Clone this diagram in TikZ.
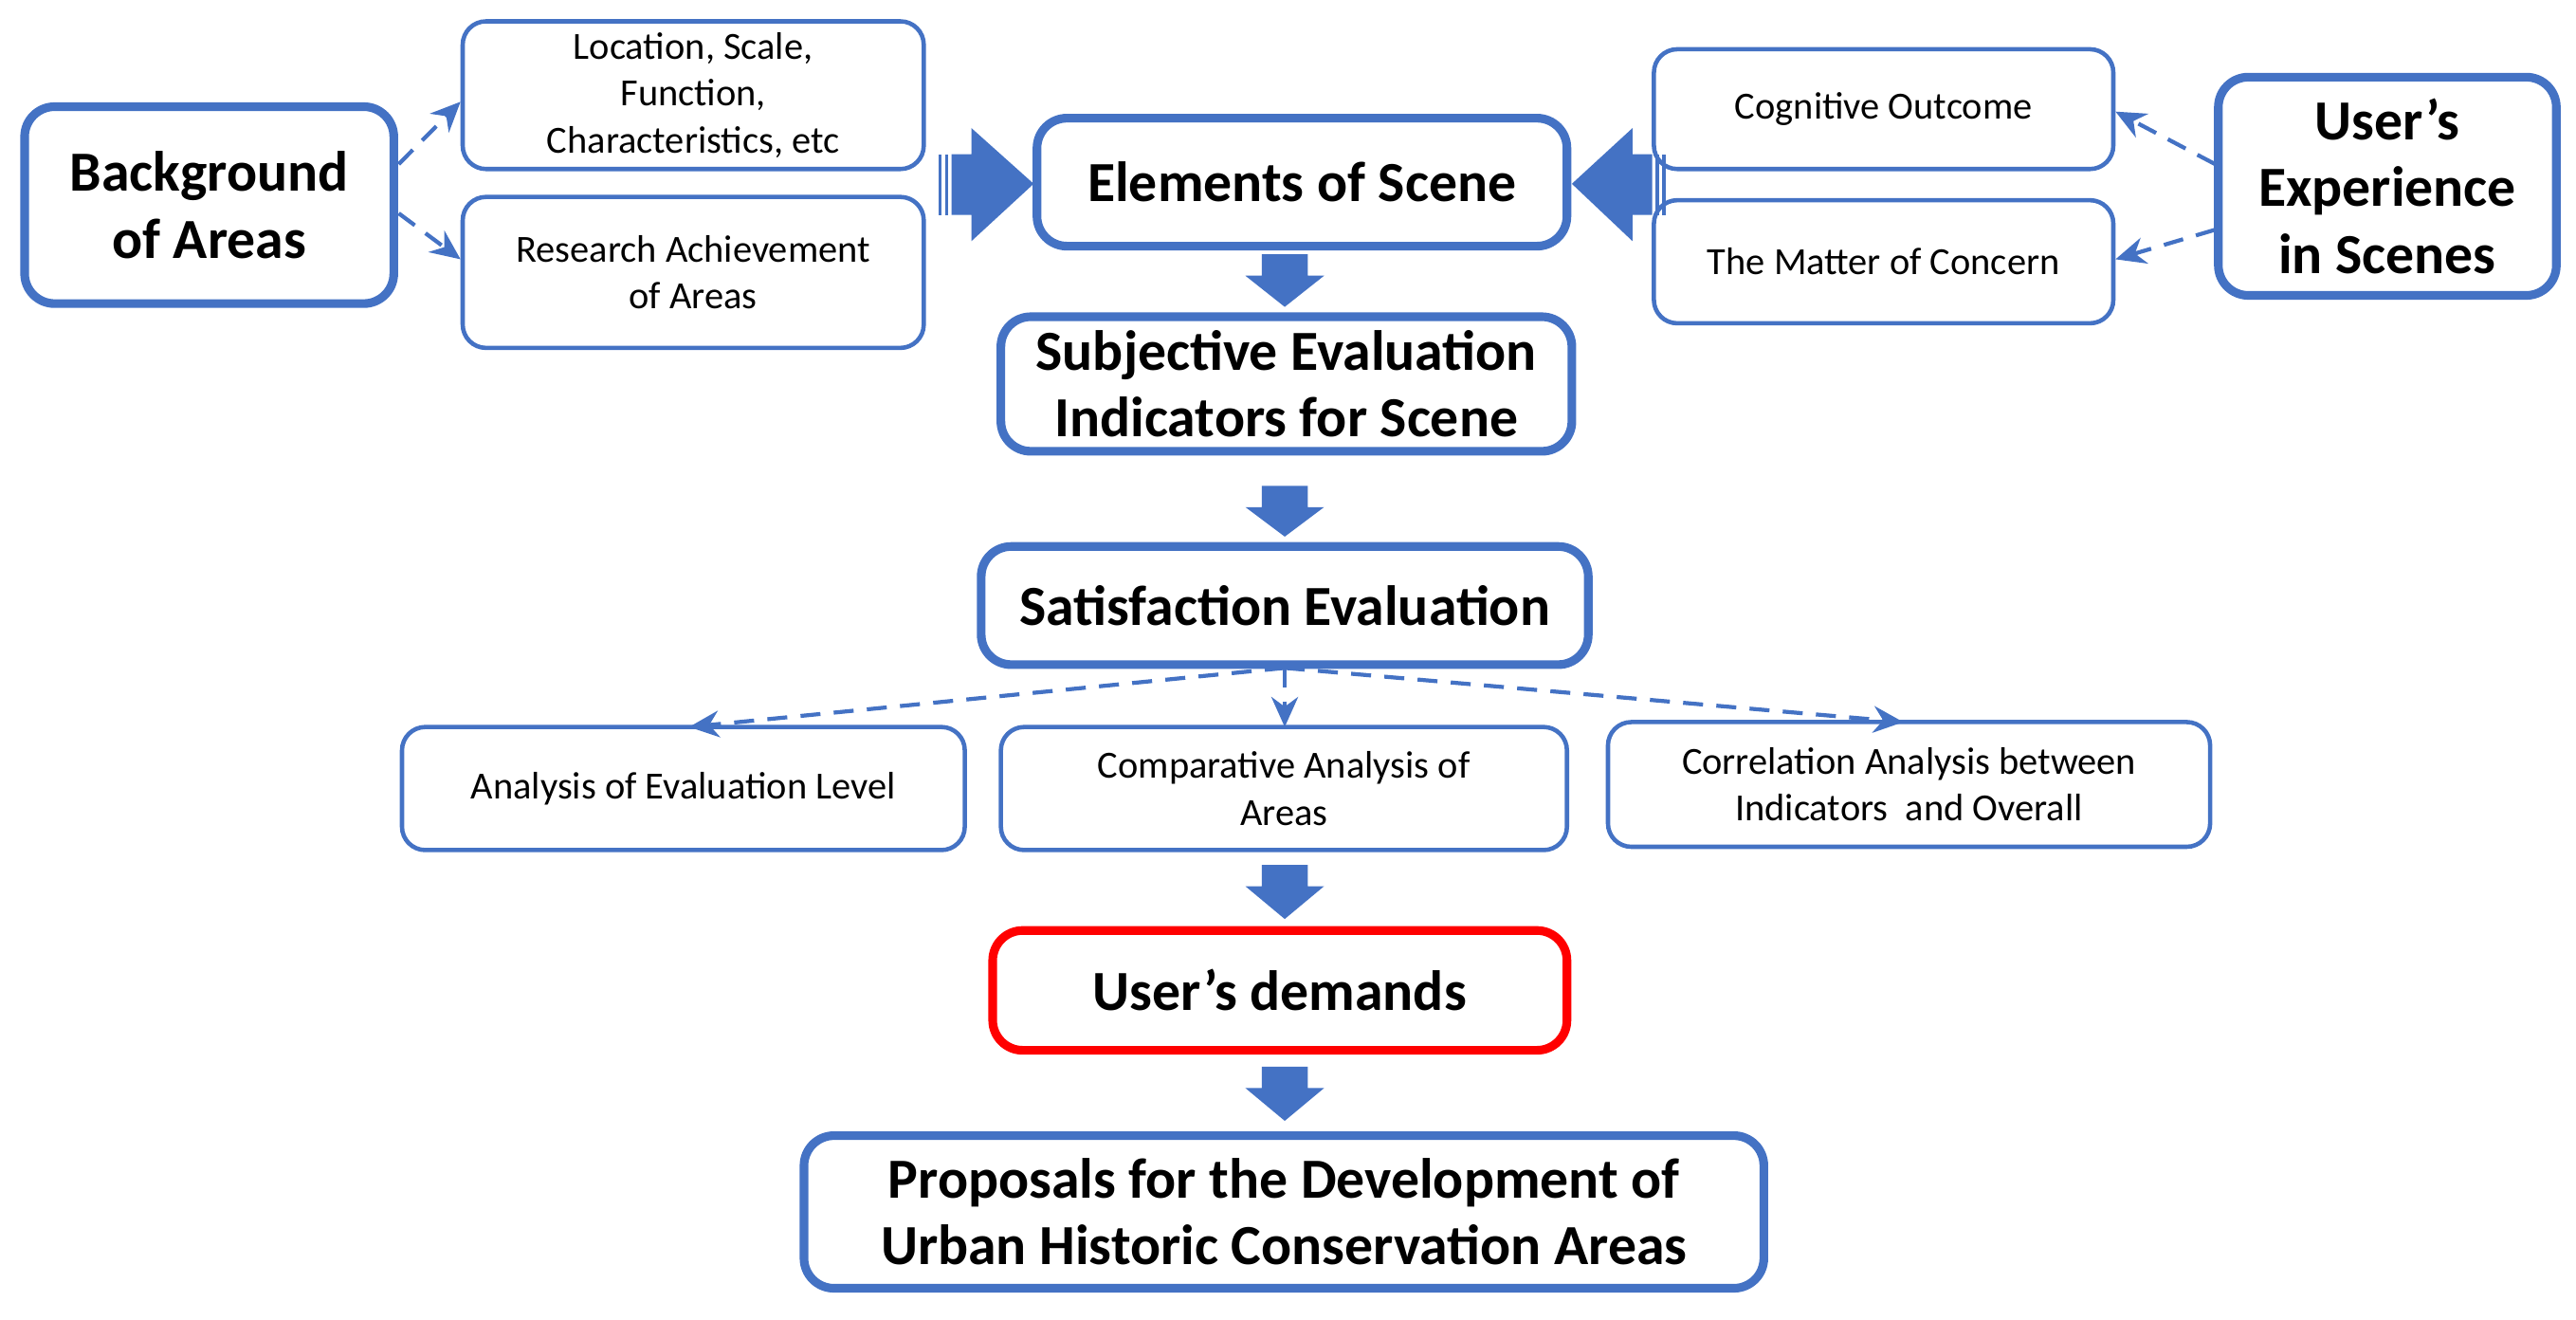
\documentclass[tikz,border=0pt]{standalone}
\usepackage{fontspec}
\setmainfont{Carlito}
\usetikzlibrary{arrows.meta}
\definecolor{bl}{HTML}{4472C4}
\begin{document}
\begin{tikzpicture}[x=0.0173cm,y=-0.0173cm,
 big/.style={draw=bl,line width=2.6pt,rounded corners=9pt,fill=white,align=center,font=\fontsize{17}{20}\selectfont\bfseries,inner sep=0pt},
 sm/.style={draw=bl,line width=1.3pt,rounded corners=7pt,fill=white,align=center,font=\fontsize{11.5}{14}\selectfont,inner sep=0pt},
 da/.style={draw=bl,line width=1.2pt,dash pattern=on 6pt off 4pt,-{Stealth[length=9pt,width=8pt]}},
 ba/.style={fill=bl}]
\useasboundingbox (0,0) rectangle (1570,804);
\newcommand\bx[6]{\node[#1,minimum width={(#4-#2)*0.0173cm},minimum height={(#5-#3)*0.0173cm}] (#6) at ({(#2+#4)/2},{(#3+#5)/2})}
\bx{big}{15}{65}{240}{185}{bg}{Background\\of Areas};
\bx{sm}{282}{13}{563}{103}{loc}{Location, Scale,\\Function,\\Characteristics, etc};
\bx{sm}{282}{120}{563}{212}{res}{Research Achievement\\of Areas};
\bx{big}{632}{72}{955}{150}{el}{Elements of Scene};
\bx{sm}{1008}{30}{1288}{103}{cog}{Cognitive Outcome};
\bx{sm}{1008}{122}{1288}{197}{mat}{The Matter of Concern};
\bx{big}{1352}{47}{1558}{180}{ue}{User's\\Experience\\in Scenes};
\bx{big}{610}{193}{958}{275}{sub}{Subjective Evaluation\\Indicators for Scene};
\bx{big}{598}{333}{968}{405}{sat}{Satisfaction Evaluation};
\bx{sm}{245}{443}{588}{518}{a1}{Analysis of Evaluation Level};
\bx{sm}{610}{443}{955}{518}{a2}{Comparative Analysis of\\Areas};
\bx{sm}{980}{440}{1347}{516}{a3}{Correlation Analysis between\\Indicators~ and Overall};
\node[big,draw=red,minimum width={350*0.0173cm},minimum height={73*0.0173cm}] (ud) at (780,603.5) {User's demands};
\bx{big}{490}{692}{1075}{785}{pr}{Proposals for the Development of\\Urban Historic Conservation Areas};
% dashed
\coordinate (bgA) at (243,100); \coordinate (bgB) at (243,130);
\draw[da] (bgA) -- (loc.west|-0,62);
\draw[da] (bgB) -- (res.west|-0,158);
\coordinate (ueA) at (1350,100); \coordinate (ueB) at (1350,140);
\draw[da] (ueA) -- (cog.east|-0,68);
\draw[da] (ueB) -- (mat.east|-0,158);
\coordinate (s0) at (783,407);
\draw[da] (s0) -- (420,443);
\draw[da] (s0) -- (783,443);
\draw[da] (s0) -- (1160,440);
% down block arrows
\newcommand\dn[2]{\fill[bl] (783-14,#1) -- (783+14,#1) -- (783+14,#1+13) -- (783+24,#1+13) -- (783,#2) -- (783-24,#1+13) -- (783-14,#1+13) -- cycle;}
\dn{155}{187}
\dn{296}{327}
\dn{527}{560}
\dn{650}{683}
% side block arrows
\fill[bl] (580,94) -- (592,94) -- (592,78) -- (630,112) -- (592,147) -- (592,131) -- (580,131) -- cycle;
\fill[bl] (572,94) rectangle (574,131); \fill[bl] (576,94) rectangle (578,131);
\fill[bl] (1007,94) -- (995,94) -- (995,78) -- (958,112) -- (995,147) -- (995,131) -- (1007,131) -- cycle;
\fill[bl] (1009,94) rectangle (1011,131); \fill[bl] (1013,94) rectangle (1015,131);
\end{tikzpicture}
\end{document}
